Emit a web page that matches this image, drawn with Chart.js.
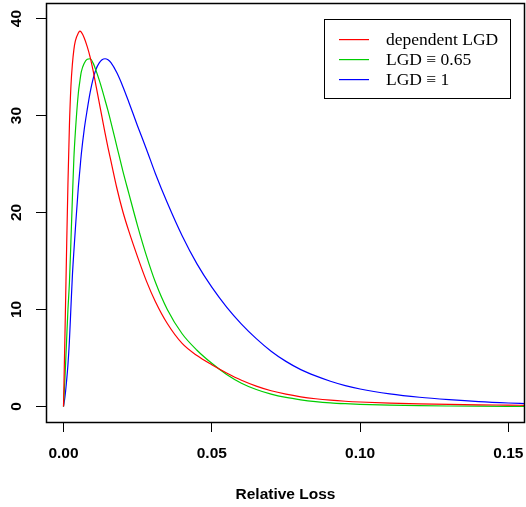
<!DOCTYPE html>
<html>
<head>
<meta charset="utf-8">
<title>Loss distribution</title>
<script src="https://cdn.jsdelivr.net/npm/chart.js@4.4.1/dist/chart.umd.min.js"></script>
<style>
    html, body { margin: 0; padding: 0; background: #fff; }
    #wrap { width: 526px; height: 507px; }
</style>
</head>
<body>
<div id="wrap"><canvas id="lossChart" width="526" height="507"></canvas></div>
<script>
// relative loss grid and densities for the three LGD assumptions
const relLoss = [
    0, 0.0005, 0.001, 0.0015, 0.002, 0.0025, 0.003, 0.0035, 0.004, 0.005,
    0.0055, 0.006, 0.007, 0.008, 0.009, 0.010, 0.011, 0.012, 0.013, 0.014,
    0.015, 0.016, 0.018, 0.020, 0.022, 0.025, 0.028, 0.031, 0.035, 0.040,
    0.045, 0.050, 0.055, 0.060, 0.065, 0.070, 0.075, 0.080, 0.085, 0.090,
    0.095, 0.100, 0.110, 0.120, 0.130, 0.140, 0.150, 0.156
];
const densDependent = [
    0, 7.5, 15.5, 23, 29, 33, 35.3, 36.8, 37.7, 38.5,
    38.7, 38.6, 38.0, 37.1, 36.0, 34.6, 33.0, 31.4, 29.8, 28.2,
    26.7, 25.3, 22.5, 20.1, 18.1, 15.4, 12.9, 10.8, 8.55, 6.5,
    5.25, 4.3, 3.45, 2.7, 2.1, 1.62, 1.27, 1.0, 0.8, 0.65,
    0.54, 0.46, 0.35, 0.27, 0.21, 0.17, 0.14, 0.12
];
const densLgd065 = [
    0, 3.0, 6.5, 10, 12.8, 17, 21.5, 25.6, 28.3, 32.3,
    33.5, 34.5, 35.4, 35.8, 35.85, 35.4, 34.6, 33.7, 32.7, 31.6,
    30.5, 29.3, 26.8, 24.3, 22.0, 18.6, 15.5, 12.8, 10.0, 7.5,
    5.8, 4.45, 3.3, 2.4, 1.75, 1.27, 0.93, 0.69, 0.51, 0.38,
    0.29, 0.22, 0.13, 0.08, 0.05, 0.03, 0.02, 0.015
];
const densLgd1 = [
    0, 1.0, 2.5, 4.3, 6.8, 10.2, 13.5, 16, 18.3, 22.6,
    24.3, 26.0, 28.6, 30.6, 32.4, 33.8, 34.8, 35.4, 35.75, 35.85,
    35.75, 35.45, 34.4, 33.0, 31.4, 28.9, 26.5, 24.0, 21.0, 17.6,
    14.7, 12.3, 10.25, 8.5, 7.0, 5.7, 4.65, 3.8, 3.15, 2.6,
    2.15, 1.8, 1.3, 0.95, 0.7, 0.5, 0.36, 0.3
];
const xTicks = [0, 0.05, 0.10, 0.15];
const yTicks = [0, 10, 20, 30, 40];
const seriesNames = ['dependent LGD', 'LGD \u2261 0.65', 'LGD \u2261 1'];
const seriesColors = ['#FF0000', '#00CD00', '#0000FF'];

const toPoints = ys => relLoss.map((x, i) => ({ x: x, y: ys[i] }));

const AXIS_FONT = 'bold 15.5px "Liberation Sans", Arial, sans-serif';

// box, rotated y labels, axis title and legend in the base-graphics look
const boxPlugin = {
    id: 'boxPlugin',
    afterDraw(chart) {
        const { ctx, chartArea: a, scales } = chart;
        ctx.save();
        ctx.strokeStyle = '#000';
        ctx.lineWidth = 1.5;
        ctx.strokeRect(Math.round(a.left) + 0.5, Math.round(a.top) + 0.5,
            Math.round(a.right - a.left) - 1, Math.round(a.bottom - a.top));

        // y tick labels, rotated
        ctx.fillStyle = '#000';
        ctx.font = AXIS_FONT;
        ctx.textAlign = 'center';
        ctx.textBaseline = 'middle';
        yTicks.forEach(v => {
            const py = scales.y.getPixelForValue(v);
            ctx.save();
            ctx.translate(17, py);
            ctx.rotate(-Math.PI / 2);
            ctx.fillText(String(v), 0, 0);
            ctx.restore();
        });

        // x tick labels
        xTicks.forEach(v => {
            const px = scales.x.getPixelForValue(v);
            ctx.fillText(v.toFixed(2), px, 454);
        });

        ctx.fillText('Relative Loss', (a.left + a.right) / 2, 495);

        // legend
        const lx = 324.5, ly = 19.5, lw = 186, lh = 79;
        ctx.lineWidth = 1;
        ctx.fillStyle = '#fff';
        ctx.fillRect(lx, ly, lw, lh);
        ctx.strokeStyle = '#000';
        ctx.strokeRect(lx, ly, lw, lh);
        ctx.font = '17.5px "Liberation Serif", "DejaVu Serif", serif';
        ctx.textAlign = 'left';
        seriesNames.forEach((name, i) => {
            const yy = 39 + i * 20;
            ctx.fillStyle = seriesColors[i];
            ctx.fillRect(339, yy, 30, 1.2);
            ctx.fillStyle = '#000';
            ctx.fillText(name, 386, yy + 1);
        });
        ctx.restore();
    }
};

const ctx = document.getElementById('lossChart').getContext('2d');
new Chart(ctx, {
    type: 'line',
    data: {
        datasets: [densDependent, densLgd065, densLgd1].map((ys, i) => ({
            label: seriesNames[i],
            data: toPoints(ys),
            borderColor: seriesColors[i],
            borderWidth: 1.2,
            pointRadius: 0,
            fill: false,
            cubicInterpolationMode: 'monotone'
        }))
    },
    options: {
        responsive: false,
        animation: false,
        events: [],
        layout: { padding: { top: 3, right: 1, left: 0, bottom: 0 } },
        plugins: {
            legend: { display: false },
            tooltip: { enabled: false }
        },
        scales: {
            x: {
                type: 'linear',
                min: -0.0059,
                max: 0.1556,
                afterBuildTicks: s => { s.ticks = xTicks.map(v => ({ value: v })); },
                afterFit: s => { s.height = 85; },
                grid: { drawOnChartArea: false, drawTicks: true, tickLength: 10, color: '#000' },
                border: { display: false },
                ticks: { display: false }
            },
            y: {
                type: 'linear',
                min: -1.6,
                max: 41.6,
                afterBuildTicks: s => { s.ticks = yTicks.map(v => ({ value: v })); },
                afterFit: s => { s.width = 46; },
                grid: { drawOnChartArea: false, drawTicks: true, tickLength: 10, color: '#000' },
                border: { display: false },
                ticks: { display: false }
            }
        }
    },
    plugins: [boxPlugin]
});
</script>
</body>
</html>
